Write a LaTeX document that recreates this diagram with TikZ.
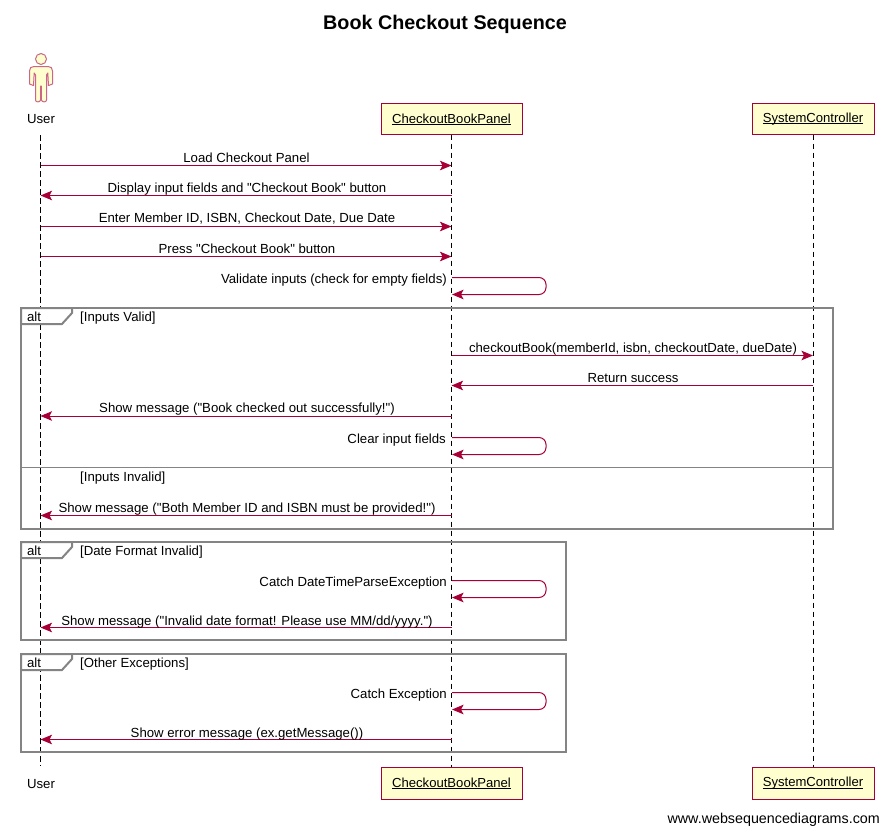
\documentclass[tikz,border=0pt]{standalone}
\usepackage{fontspec}
\setmainfont{Liberation Sans}[Ligatures=TeXOff]
\usetikzlibrary{arrows.meta}
\definecolor{wsdred}{HTML}{A80036}
\definecolor{wsdfill}{HTML}{FEFECE}
\definecolor{wsdgray}{HTML}{848484}
\newcommand\uln[1]{\setbox0\hbox{#1}\raisebox{-1.5pt}{\rlap{\rule[-1.4pt]{\wd0}{0.8pt}}#1}\vphantom{Sy}}
\tikzset{
  lbl/.style={inner sep=0pt,anchor=mid,yshift=-2.5pt,font=\fontsize{13.2}{15}\selectfont,text=black},
  lblr/.style={lbl,anchor=mid east},
  lbll/.style={lbl,anchor=mid west},
  pbox/.style={draw=wsdred,fill=wsdfill,line width=1pt,inner sep=0pt,font=\fontsize{13.1}{15}\selectfont},
  life/.style={black,line width=1pt,dash pattern=on 5.5pt off 3.5pt},
  msg/.style={wsdred,line width=1pt,-{Stealth[length=11.5pt,width=9.5pt,inset=2.5pt]}},
  selfmsg/.style={msg,rounded corners=7pt},
  frameline/.style={wsdgray,line width=2pt},
  tabshape/.style={frameline,fill=white,line join=miter},
  divider/.style={wsdgray,line width=1pt},
  actorline/.style={wsdred!60,fill=wsdfill,line width=1pt,line join=round}
}
\begin{document}
\begin{tikzpicture}[x=1pt,y=-1pt]
\useasboundingbox[fill=white] (0,0) rectangle (889,833);
\node[inner sep=0pt,font=\bfseries\fontsize{19.75}{24}\selectfont] (title) at (445,24) {Book Checkout Sequence};
% participants
\node[lbl] (U) at (41,118) {User};
\node[pbox,minimum width=141pt,minimum height=31pt] (P) at (451.5,118.5) {\uln{CheckoutBookPanel}};
\node[pbox,minimum width=122pt,minimum height=31pt] (S) at (813,118.5) {\uln{SystemController}};
\node[lbl] (Ub) at (41,783) {User};
\node[pbox,minimum width=141pt,minimum height=32pt] (Pb) at (451.5,783) {\uln{CheckoutBookPanel}};
\node[pbox,minimum width=122pt,minimum height=32pt] (Sb) at (813,783) {\uln{SystemController}};
\node[inner sep=0pt,anchor=mid east,yshift=-2.5pt,font=\fontsize{14.3}{16}\selectfont] (wm) at (880,818) {www.websequencediagrams.com};
% column anchors and lifelines
\coordinate (UL) at (40.5,135);
\coordinate (ULb) at (40.5,766);
\draw[life] (UL) -- (ULb);
\draw[life] (P.south) -- (Pb.north);
\draw[life] (S.south) -- (Sb.north);
% actor
\draw[actorline] (41,59) circle (5.5pt);
\draw[actorline] (34,66.5) -- (48,66.5) .. controls (51,66.5) and (52.5,68) .. (52.5,71)
  -- (52.5,84) -- (48.5,85.5) -- (47.8,73) -- (46.5,75) -- (46.5,100) .. controls (46.5,102.5) and (42,102.5) .. (41.3,100)
  -- (41.3,86) -- (40.7,86) -- (40.7,100) .. controls (40,102.5) and (35.5,102.5) .. (35.5,100)
  -- (35.5,75) -- (34.2,73) -- (33.5,85.5) -- (29.5,84) -- (29.5,71) .. controls (29.5,68) and (31,66.5) .. (34,66.5) -- cycle;
% frames
\draw[frameline] (21,308) rectangle (833,529);
\draw[tabshape] (21,308) -- (72,308) -- (72,313) -- (62,324) -- (21,324) -- cycle;
\node[lbl] (alta) at (34,316) {alt};
\node[lbll] (ga) at (80,316) {[Inputs Valid]};
\draw[divider] (21,467.5) -- (833,467.5);
\node[lbll] (gb) at (80,476) {[Inputs Invalid]};
\draw[frameline] (21,542) rectangle (566,640);
\draw[tabshape] (21,542) -- (72,542) -- (72,547) -- (62,558) -- (21,558) -- cycle;
\node[lbl] (altb) at (34,550) {alt};
\node[lbll] (gc) at (80,550) {[Date Format Invalid]};
\draw[frameline] (21,654) rectangle (566,752);
\draw[tabshape] (21,654) -- (72,654) -- (72,659) -- (62,670) -- (21,670) -- cycle;
\node[lbl] (altc) at (34,662) {alt};
\node[lbll] (gd) at (80,662) {[Other Exceptions]};
% rows
\foreach \n/\y in {a/165.5,b/195.5,c/226.5,d/256.5,f/355.5,g/385.5,h/416,k/515.5,n/627.5,q/739.5}{
  \coordinate (r\n) at (0,\y);
}
\draw[msg] (UL |- ra) -- (P |- ra);
\node[lbl] (la) at (246.5,157) {Load Checkout Panel};
\draw[msg] (P |- rb) -- (UL |- rb);
\node[lbl] (lb) at (247,187) {Display input fields and "Checkout Book" button};
\draw[msg] (UL |- rc) -- (P |- rc);
\node[lbl] (lc) at (247,217) {Enter Member ID, ISBN, Checkout Date, Due Date};
\draw[msg] (UL |- rd) -- (P |- rd);
\node[lbl] (ld) at (247,248) {Press "Checkout Book" button};
% self messages
\coordinate (ea) at (452,277.5); \coordinate (eb) at (546,277.5); \coordinate (ec) at (546,294.5); \coordinate (ed) at (452,294.5);
\draw[selfmsg] (ea) -- (eb) -- (ec) -- (ed);
\node[lblr] (le) at (447,278) {Validate inputs (check for empty fields)};
\draw[msg] (P |- rf) -- (S |- rf);
\node[lbl] (lf) at (633,347) {checkoutBook(memberId, isbn, checkoutDate, dueDate)};
\draw[msg] (S |- rg) -- (P |- rg);
\node[lbl] (lg) at (633,377) {Return success};
\draw[msg] (P |- rh) -- (UL |- rh);
\node[lbl] (lh) at (247,407) {Show message ("Book checked out successfully!")};
\coordinate (ja) at (452,437.5); \coordinate (jb) at (546,437.5); \coordinate (jc) at (546,454.5); \coordinate (jd) at (452,454.5);
\draw[selfmsg] (ja) -- (jb) -- (jc) -- (jd);
\node[lblr] (lj) at (446,438) {Clear input fields};
\draw[msg] (P |- rk) -- (UL |- rk);
\node[lbl] (lk) at (247,507) {Show message ("Both Member ID and ISBN must be provided!")};
\coordinate (ma) at (452,580.5); \coordinate (mb) at (546,580.5); \coordinate (mc) at (546,597.5); \coordinate (md) at (452,597.5);
\draw[selfmsg] (ma) -- (mb) -- (mc) -- (md);
\node[lblr] (lm) at (447,581) {Catch DateTimeParseException};
\draw[msg] (P |- rn) -- (UL |- rn);
\node[lbl] (ln) at (247,620) {Show message ("Invalid date format! Please use MM/dd/yyyy.")};
\coordinate (pa) at (452,692.5); \coordinate (pb) at (546,692.5); \coordinate (pc) at (546,709.5); \coordinate (pd) at (452,709.5);
\draw[selfmsg] (pa) -- (pb) -- (pc) -- (pd);
\node[lblr] (lp) at (447,693) {Catch Exception};
\draw[msg] (P |- rq) -- (UL |- rq);
\node[lbl] (lq) at (247,732) {Show error message (ex.getMessage())};
\end{tikzpicture}
\end{document}
